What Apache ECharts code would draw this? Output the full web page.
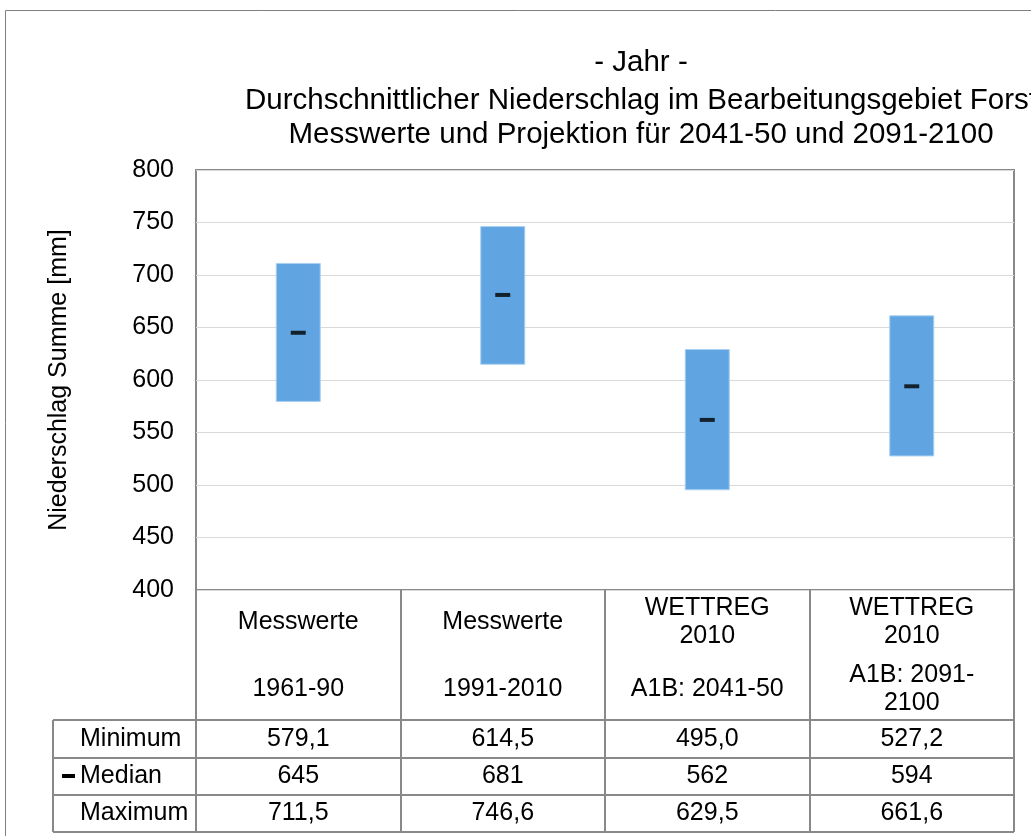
<!DOCTYPE html>
<html>
<head>
<meta charset="utf-8">
<script src="https://cdn.jsdelivr.net/npm/echarts@6/dist/echarts.min.js"></script>
<style>
  html, body { margin: 0; padding: 0; background: #fff; }
  #main { width: 1031px; height: 836px; }
</style>
</head>
<body>
<div id="main"></div>
<script>
// Daten aus der Tabelle
const catTop = ["Messwerte", "Messwerte", "WETTREG\n2010", "WETTREG\n2010"];
const catBottom = ["1961-90", "1991-2010", "A1B: 2041-50", "A1B: 2091-\n2100"];
const minValues = [579.1, 614.5, 495.0, 527.2];
const medianValues = [645, 681, 562, 594];
const maxValues = [711.5, 746.6, 629.5, 661.6];
const rowNames = ["Minimum", "Median", "Maximum"];
const yMin = 400;
const yMax = 800;
const yStep = 50;

const FONT = '"Liberation Sans", Arial, Helvetica, sans-serif';
const BAR_COLOR = "#60a5e2";
const LINE_COLOR = "#898989";

// Zahl mit Komma
function fmt(v, digits) {
  return v.toFixed(digits).replace(".", ",");
}

const option = {
  animation: false,
  backgroundColor: "#fff",
  textStyle: { fontFamily: FONT },
  title: [
    { text: "- Jahr -", left: 641, top: 63 },
    { text: "Durchschnittlicher Niederschlag im Bearbeitungsgebiet Forst", left: 641, top: 101 },
    { text: "Messwerte und Projektion für 2041-50 und 2091-2100", left: 641, top: 135 },
  ].map((t) => ({
    ...t,
    padding: 0,
    textAlign: "center",
    textVerticalAlign: "middle",
    textStyle: { fontFamily: FONT, fontSize: 29.5, fontWeight: "normal", color: "#000" },
  })),
  grid: {
    left: 196,
    top: 170,
    right: 17,
    bottom: 246,
    show: true,
    borderColor: LINE_COLOR,
    borderWidth: 2,
  },
  xAxis: {
    type: "category",
    data: catTop.map((t, i) => t + "|" + catBottom[i]),
    axisLine: { show: false },
    axisTick: {
      show: true,
      length: 242,
      lineStyle: { color: LINE_COLOR, width: 2 },
    },
    axisLabel: { show: false },
    splitLine: { show: false },
  },
  yAxis: {
    type: "value",
    min: yMin,
    max: yMax,
    interval: yStep,
    name: "Niederschlag Summe [mm]",
    nameLocation: "middle",
    nameGap: 124,
    nameTextStyle: { fontFamily: FONT, fontSize: 25, color: "#000" },
    axisLine: { show: false },
    axisTick: { show: false },
    axisLabel: { fontFamily: FONT, fontSize: 25, color: "#000", margin: 22, padding: [4, 0, 0, 0] },
    splitLine: { lineStyle: { color: "#d9d9d9", width: 1 } },
  },
  series: [
    {
      name: "base",
      type: "bar",
      stack: "range",
      barWidth: 45,
      itemStyle: { color: "transparent" },
      silent: true,
      data: minValues,
    },
    {
      name: "Spanne",
      type: "bar",
      stack: "range",
      barWidth: 45,
      itemStyle: { color: BAR_COLOR, borderColor: "#a9d0f2", borderWidth: 1 },
      data: maxValues.map((v, i) => +(v - minValues[i]).toFixed(1)),
    },
    {
      name: "Median",
      type: "scatter",
      symbol: "rect",
      symbolSize: [15, 4],
      itemStyle: { color: "#000" },
      z: 5,
      data: medianValues.map((v, i) => [i, v]),
    },
  ],
};

const chart = echarts.init(document.getElementById("main"));
chart.setOption(option);

// Tabelle unter dem Diagramm
const xs = catTop.map((_, i) => chart.convertToPixel({ xAxisIndex: 0 }, i));
const tableLeft = 53;
const tableRight = 1014;
const rowLines = [720, 758, 795, 832];
const rowMid = [739, 776, 813];
const rowValues = [
  minValues.map((v) => fmt(v, 1)),
  medianValues.map((v) => fmt(v, 0)),
  maxValues.map((v) => fmt(v, 1)),
];

function txt(text, x, y, align) {
  return {
    type: "text",
    silent: true,
    style: {
      text,
      x,
      y,
      font: "25px " + FONT,
      fill: "#000",
      align: align || "center",
      verticalAlign: "middle",
      lineHeight: 28,
    },
  };
}

const graphics = [];
// äußerer Rahmen
graphics.push({
  type: "rect",
  silent: true,
  shape: { x: 5.5, y: 10.5, width: 1100, height: 900 },
  style: { fill: null, stroke: "#7f7f7f", lineWidth: 1 },
});
xs.forEach((x, i) => {
  graphics.push(txt(catTop[i], x, 622));
  graphics.push(txt(catBottom[i], x, 689));
  rowValues.forEach((vals, r) => graphics.push(txt(vals[i], x, rowMid[r])));
});
rowNames.forEach((n, r) => graphics.push(txt(n, 80, rowMid[r], "left")));
rowLines.forEach((y) =>
  graphics.push({
    type: "line",
    silent: true,
    shape: { x1: tableLeft, y1: y, x2: tableRight, y2: y },
    style: { stroke: LINE_COLOR, lineWidth: 2 },
  })
);
graphics.push({
  type: "line",
  silent: true,
  shape: { x1: tableLeft, y1: rowLines[0], x2: tableLeft, y2: rowLines[3] },
  style: { stroke: LINE_COLOR, lineWidth: 2 },
});
// Median-Symbol in der Tabelle
graphics.push({
  type: "rect",
  silent: true,
  shape: { x: 62, y: 774, width: 13, height: 4 },
  style: { fill: "#000" },
});

chart.setOption({ graphic: graphics });
</script>
</body>
</html>
